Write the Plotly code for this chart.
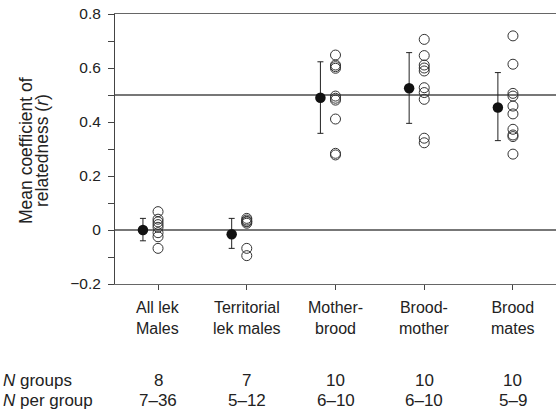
import plotly.graph_objects as go

categories = ["All lek<br>Males", "Territorial<br>lek males", "Mother-<br>brood", "Brood-<br>mother", "Brood<br>mates"]
means = [0.0, -0.016, 0.49, 0.525, 0.454]
err_hi = [0.043, 0.043, 0.623, 0.657, 0.583]
err_lo = [-0.04, -0.068, 0.358, 0.395, 0.331]
group_values = [
    [0.068, 0.04, 0.03, 0.02, 0.01, -0.01, -0.025, -0.068],
    [0.043, 0.037, 0.032, 0.025, 0.03, -0.068, -0.095],
    [0.648, 0.611, 0.605, 0.599, 0.496, 0.488, 0.481, 0.411, 0.284, 0.278],
    [0.706, 0.646, 0.611, 0.60, 0.589, 0.527, 0.509, 0.484, 0.340, 0.323],
    [0.719, 0.614, 0.506, 0.496, 0.459, 0.43, 0.373, 0.352, 0.346, 0.281],
]
n_groups = ["8", "7", "10", "10", "10"]
n_per_group = ["7–36", "5–12", "6–10", "6–10", "5–9"]
row_labels = ["<i>N</i> groups", "<i>N</i> per group"]
ytick_vals = [-0.2, 0, 0.2, 0.4, 0.6, 0.8]
ytick_text = ["−0.2", "0", "0.2", "0.4", "0.6", "0.8"]
ytitle_lines = ["Mean coefficient of", "relatedness (<i>r</i>)"]
ref_lines = [0.5, 0.0]

FONT = "Liberation Sans, Arial, sans-serif"
TXT = "#222222"
W, H = 556, 413
L, R, T, B = 115, 0, 14, 129
PW, PH = W - L - R, H - T - B


def px_x(px):
    return (px - L) / PW


def px_y(py):
    return (H - B - py) / PH


xs = list(range(len(categories)))
offset = -0.17

fig = go.Figure()

for i, vals in enumerate(group_values):
    fig.add_trace(go.Scatter(
        x=[i] * len(vals), y=vals, mode="markers",
        marker=dict(symbol="circle-open", size=10, color="#333333", line=dict(width=1)),
        showlegend=False, hoverinfo="y"))

fig.add_trace(go.Scatter(
    x=[x + offset for x in xs], y=means, mode="markers",
    marker=dict(symbol="circle", size=10.5, color="#111111"),
    error_y=dict(type="data", symmetric=False,
                 array=[h - m for h, m in zip(err_hi, means)],
                 arrayminus=[m - l for m, l in zip(means, err_lo)],
                 color="#222222", thickness=1, width=3),
    showlegend=False))

for y in ref_lines:
    fig.add_shape(type="line", xref="paper", x0=0, x1=1, yref="y", y0=y, y1=y,
                  line=dict(color="#4a4a4a", width=1.6), layer="below")

for i, c in enumerate(categories):
    fig.add_annotation(x=i, y=px_y(317.5), xref="x", yref="paper", text=c, showarrow=False,
                       yanchor="middle", font=dict(size=16, color=TXT, family=FONT))
    fig.add_annotation(x=i, y=px_y(380), xref="x", yref="paper", text=n_groups[i], showarrow=False,
                       yanchor="middle", font=dict(size=17, color=TXT, family=FONT))
    fig.add_annotation(x=i, y=px_y(400.5), xref="x", yref="paper", text=n_per_group[i], showarrow=False,
                       yanchor="middle", font=dict(size=17, color=TXT, family=FONT))

for lbl, py in zip(row_labels, [380, 400.5]):
    fig.add_annotation(x=px_x(1), y=px_y(py), xref="paper", yref="paper", text=lbl,
                       showarrow=False, xanchor="left", yanchor="middle",
                       font=dict(size=17, color=TXT, family=FONT))

for lbl, cx in zip(ytitle_lines, [26, 42]):
    fig.add_annotation(x=px_x(cx), y=px_y(151), xref="paper", yref="paper", text=lbl,
                       showarrow=False, textangle=-90, xanchor="center", yanchor="middle",
                       font=dict(size=17.5, color=TXT, family=FONT))

fig.update_layout(
    width=W, height=H,
    margin=dict(l=L, r=R, t=T, b=B, autoexpand=False),
    paper_bgcolor="white", plot_bgcolor="white",
    font=dict(family=FONT, size=16, color=TXT),
    xaxis=dict(range=[-0.485, 4.485], tickvals=xs, ticktext=[""] * len(xs),
               showgrid=False, zeroline=False, showline=True, linecolor="#666666",
               linewidth=1.2, mirror=True, ticks="outside", ticklen=5, tickcolor="#444444",
               automargin=False),
    yaxis=dict(range=[-0.2, 0.8], tickvals=ytick_vals, ticktext=ytick_text,
               showgrid=False, zeroline=False, showline=True, linecolor="#444444",
               linewidth=1, ticks="outside", ticklen=6, tickcolor="#444444",
               minor=dict(tickvals=[-0.1, 0.1, 0.3, 0.5, 0.7], ticks="outside",
                          ticklen=6, tickcolor="#444444"),
               tickfont=dict(size=15.5, color=TXT), ticklabelstandoff=4,
               automargin=False),
)

fig.write_html("out.html", config={"displayModeBar": False},
               post_script="document.body.style.margin='0';document.body.style.overflow='hidden';")
